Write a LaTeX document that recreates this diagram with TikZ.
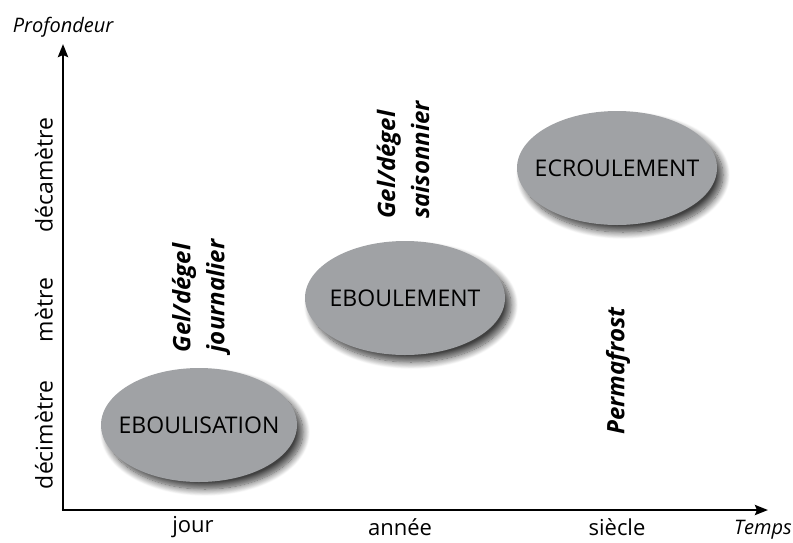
\documentclass[tikz,border=0pt]{standalone}
\usepackage{fontspec}
\setmainfont{Open Sans}
\usetikzlibrary{arrows.meta,shadows.blur,shapes.geometric}
\definecolor{ellgray}{RGB}{160,162,165}
\tikzset{
  axis/.style={line width=2.6pt,-{Stealth[length=13pt,width=10pt,inset=2pt]}},
  proc/.style={ellipse,fill=ellgray,minimum width=196pt,minimum height=114pt,inner sep=0pt,
     font=\fontsize{23}{27}\selectfont,
     execute at begin node={\hbox to 0pt\bgroup\hss},execute at end node={\hss\egroup},
     blur shadow={shadow xshift=6pt,shadow yshift=-7pt,shadow blur steps=12,shadow blur radius=7pt,shadow opacity=75}},
  ticklab/.style={font=\fontsize{23}{27}\selectfont},
  xlab/.style={font=\fontsize{22}{26}\selectfont,inner sep=1pt},
  axlab/.style={font=\fontsize{20}{24}\selectfont\itshape},
  climate/.style={font=\fontsize{24}{34}\selectfont\bfseries\itshape,rotate=90,align=left}
}
\begin{document}
\begin{tikzpicture}[x=1pt,y=-1pt]
\useasboundingbox (0,0) rectangle (793,542);
\coordinate (O) at (63,510);
\coordinate (ytop) at (63,44);
\coordinate (xend) at (768,510);
\draw[axis] (O) -- (ytop);
\draw[axis] ([xshift=-1.3pt]O) -- (xend);
\node[axlab] (prof) at (63,27) {Profondeur};
\node[axlab] (temps) at (763,530) {Temps};
\node[ticklab,rotate=90] (deca) at (44,175) {décamètre};
\node[ticklab,rotate=90] (metre) at (44,310) {mètre};
\node[ticklab,rotate=90] (deci) at (44,435) {décimètre};
\node[xlab] (jour) at (193,527) {jour};
\node[xlab] (annee) at (400,527) {année};
\node[xlab] (siecle) at (617,527) {siècle};
\node[proc] (e1) at (199,425) {EBOULISATION};
\node[proc,minimum width=200pt] (e2) at (405,298) {EBOULEMENT};
\node[proc,minimum width=200pt] (e3) at (617,168) {ECROULEMENT};
\node[climate] (gj) at (201,296) {Gel/dégel\\journalier};
\node[climate] (gs) at (403,160) {Gel/dégel\\saisonnier};
\node[climate] (perm) at (618,371) {Permafrost};
\end{tikzpicture}
\end{document}
